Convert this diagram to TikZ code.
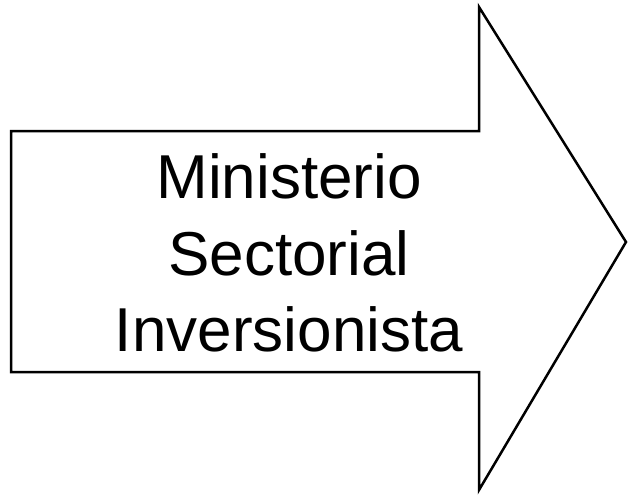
\documentclass[tikz,border=0pt]{standalone}
\usepackage{fontspec}
\setmainfont{Liberation Sans}
\usepackage{tikz}

\begin{document}
\begin{tikzpicture}[x=1pt,y=-1pt,
		flecha/.style={draw=black,line width=2.5pt,line join=miter},
		rotulo/.style={align=center,font=\fontsize{62}{76.5}\selectfont,inner sep=0pt}]
		\useasboundingbox (0,0) rectangle (628,496);
		\draw [flecha] (11,131)--(479,131)--(479,7)--(626,242)--(479,490)--(479,372)--(11,372)--cycle;
		\node [rotulo] (ministerio) at (289,253) {Ministerio\\Sectorial\\Inversionista};
	\end{tikzpicture}
\end{document}
